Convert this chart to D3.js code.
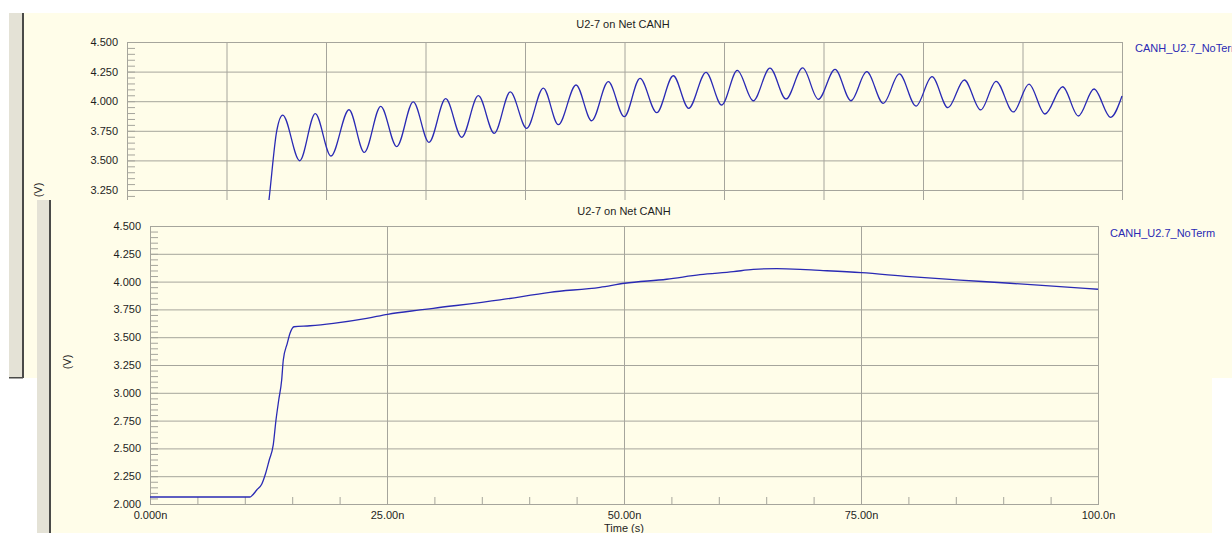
<!DOCTYPE html>
<html>
<head>
<meta charset="utf-8">
<script src="https://cdnjs.cloudflare.com/ajax/libs/d3/7.8.5/d3.min.js"></script>
<style>
  body { margin: 0; background: #ffffff; }
  svg { display: block; font-family: "Liberation Sans", Arial, sans-serif; }
</style>
</head>
<body>
<div id="canvasArea"></div>
<script>
var W = 1232, H = 533;

var chartTitle = "U2-7 on Net CANH";
var seriesName = "CANH_U2.7_NoTerm";
var yLabel = "(V)";
var xLabel = "Time (s)";

var yTicks = [2.0, 2.25, 2.5, 2.75, 3.0, 3.25, 3.5, 3.75, 4.0, 4.25, 4.5];
var topYTicks = [3.25, 3.5, 3.75, 4.0, 4.25, 4.5];   // the rest is hidden behind the front window
var xTicks = [0, 25, 50, 75, 100];
var xTickLabels = ["0.000n", "25.00n", "50.00n", "75.00n", "100.0n"];
var topGridX = [0, 10, 20, 30, 40, 50, 60, 70, 80, 90, 100];

// top window trace (time in ns, volts)
var topTime = [0, 12.3, 13.0, 13.6, 14.27, 15.05, 15.65, 17.36, 18.92, 20.50, 22.31, 23.85, 25.50, 27.11, 28.77,
  30.35, 32.03, 33.64, 35.31, 36.91, 38.52, 40.17, 41.84, 43.35, 45.13, 46.70, 48.37, 49.98, 51.56,
  53.24, 54.90, 56.45, 58.19, 59.77, 61.34, 62.94, 64.62, 66.23, 67.91, 69.48, 71.16, 72.76, 74.34,
  76.01, 77.62, 79.30, 80.90, 82.51, 84.15, 85.80, 87.34, 89.08, 90.65, 92.26, 94.04, 95.61, 97.19,
  98.86, 100];
var topVolt = [2.06, 2.06, 2.30, 2.70, 3.166, 3.75, 3.883, 3.497, 3.895, 3.537, 3.928, 3.568, 3.957, 3.616, 3.995,
  3.653, 4.021, 3.695, 4.047, 3.729, 4.078, 3.771, 4.111, 3.802, 4.137, 3.835, 4.165, 3.869, 4.193,
  3.903, 4.215, 3.940, 4.244, 3.968, 4.261, 4.004, 4.280, 4.019, 4.281, 4.016, 4.269, 4.004, 4.249,
  3.982, 4.230, 3.959, 4.207, 3.945, 4.179, 3.926, 4.168, 3.909, 4.145, 3.892, 4.122, 3.875, 4.103,
  3.864, 4.044];

// bottom window trace
var botTime = [0, 10.55, 10.79, 11.26, 11.78, 12.2, 12.58, 13.0, 13.29, 13.58, 13.89, 14.06, 14.48, 14.77, 15.19,
  16.88, 19.34, 22.86, 25.07, 28.48, 29.88, 36.92, 42.19, 47.47, 50.07, 54.5, 58.02, 61.53, 63.64,
  66.11, 68.57, 70.15, 75.03, 80.17, 85.44, 90.72, 95.99, 100];
var botVolt = [2.063, 2.063, 2.078, 2.126, 2.177, 2.276, 2.396, 2.531, 2.755, 2.935, 3.115, 3.295, 3.445, 3.535, 3.594,
  3.603, 3.625, 3.670, 3.706, 3.745, 3.760, 3.835, 3.904, 3.949, 3.985, 4.021, 4.062, 4.089, 4.110,
  4.116, 4.110, 4.103, 4.080, 4.044, 4.014, 3.985, 3.954, 3.931];

var cream = "#fffde9",
  strip = "#e4e2d6",
  edge = "#4a4a48",
  grid = "#a6a59c",
  trace = "#2a2ab4",
  txt = "#1e1e1e";

var svg = d3.select("#canvasArea").append("svg")
  .attr("width", W)
  .attr("height", H);

svg.append("rect").attr("width", W).attr("height", H).style("fill", "#ffffff");

function drawWindow(x0, y0, x1, y1, stripW) {
  svg.append("rect")
    .attr("x", x0).attr("y", y0)
    .attr("width", x1 - x0).attr("height", y1 - y0)
    .style("fill", cream);
  svg.append("rect")
    .attr("x", x0).attr("y", y0)
    .attr("width", stripW).attr("height", y1 - y0)
    .style("fill", strip);
  svg.append("rect")
    .attr("x", x0 + stripW).attr("y", y0)
    .attr("width", 2).attr("height", y1 - y0)
    .style("fill", edge);
}

function styleText(s) {
  s.select(".domain").remove();
  s.selectAll("text")
    .style("font-family", "'Liberation Sans', Arial, sans-serif")
    .style("font-size", "11px")
    .style("fill", txt);
}

function styleGrid(s) {
  s.select(".domain").remove();
  s.selectAll("line").style("stroke", grid);
}

function drawChart(o) {
  var x = d3.scaleLinear().domain([0, 100]).range([o.left, o.right]),
    y = d3.scaleLinear().domain([2.0, 4.5]).range([o.bottom, o.top]);

  var g = svg.append("g");

  // horizontal grid
  g.append("g")
    .attr("transform", "translate(" + o.left + ",0)")
    .call(d3.axisLeft(y).tickValues(yTicks).tickSize(-(o.right - o.left)).tickFormat(""))
    .call(styleGrid);

  // vertical grid
  g.append("g")
    .attr("transform", "translate(0," + o.bottom + ")")
    .call(d3.axisBottom(x).tickValues(o.gridX).tickSize(-(o.bottom - o.top)).tickFormat(""))
    .call(styleGrid);

  // minor y ticks
  g.append("g")
    .attr("transform", "translate(" + o.left + ",0)")
    .call(d3.axisRight(y).tickValues(d3.range(2.0, 4.5001, 0.05)).tickSize(8).tickFormat(""))
    .call(styleGrid);

  // minor x ticks
  g.append("g")
    .attr("transform", "translate(0," + o.bottom + ")")
    .call(d3.axisTop(x).tickValues(d3.range(0, 100.001, 5)).tickSize(7).tickFormat(""))
    .call(styleGrid);

  g.append("rect")
    .attr("x", o.left + 0.5).attr("y", o.top + 0.5)
    .attr("width", o.right - o.left).attr("height", o.bottom - o.top)
    .style("fill", "none").style("stroke", grid);

  // y tick labels
  g.append("g")
    .attr("transform", "translate(" + (o.left - 9) + ",0)")
    .call(d3.axisLeft(y).tickValues(o.yLabels).tickSize(0).tickPadding(0).tickFormat(d3.format(".3f")))
    .call(styleText);

  if (o.xLabels) {
    g.append("g")
      .attr("transform", "translate(0," + (o.bottom + 7) + ")")
      .call(d3.axisBottom(x).tickValues(xTicks).tickSize(0).tickPadding(0)
        .tickFormat(function(d, i) { return xTickLabels[i]; }))
      .call(styleText);

    g.append("text")
      .attr("x", (o.left + o.right) / 2).attr("y", o.bottom + 28)
      .attr("text-anchor", "middle")
      .style("font-size", "11px").style("fill", txt)
      .text(xLabel);
  }

  g.append("text")
    .attr("transform", "translate(" + o.ylabX + "," + o.ylabY + ") rotate(-90)")
    .attr("text-anchor", "middle")
    .style("font-size", "11px").style("fill", txt)
    .text(yLabel);

  g.append("text")
    .attr("x", o.titleX).attr("y", o.titleY)
    .attr("text-anchor", "middle")
    .style("font-size", "11px").style("fill", txt)
    .text(chartTitle);

  g.append("text")
    .attr("x", o.legX).attr("y", o.legY)
    .style("font-size", "11px").style("fill", trace)
    .text(seriesName);

  var line = d3.line()
    .x(function(d) { return x(d[0]); })
    .y(function(d) { return y(d[1]); })
    .curve(d3.curveMonotoneX);

  g.append("path")
    .datum(d3.zip(o.t, o.v))
    .attr("d", line)
    .style("fill", "none")
    .style("stroke", trace)
    .style("stroke-width", 1.3);
}

// top (back) window
drawWindow(9, 13, W, 378, 13);
svg.append("rect").attr("x", 9).attr("y", 377).attr("width", 14).attr("height", 1.5).style("fill", edge);
drawChart({
  left: 127, right: 1122, top: 42, bottom: 338, gridX: topGridX,
  yLabels: topYTicks, xLabels: false,
  t: topTime, v: topVolt,
  titleX: 623, titleY: 28, legX: 1135, legY: 52, ylabX: 42, ylabY: 190
});

// bottom (front) window
drawWindow(37, 200, 1212, H, 12);
drawChart({
  left: 150, right: 1098, top: 226, bottom: 504, gridX: xTicks,
  yLabels: yTicks, xLabels: true,
  t: botTime, v: botVolt,
  titleX: 624, titleY: 215, legX: 1110, legY: 237, ylabX: 71, ylabY: 362
});
</script>
</body>
</html>
